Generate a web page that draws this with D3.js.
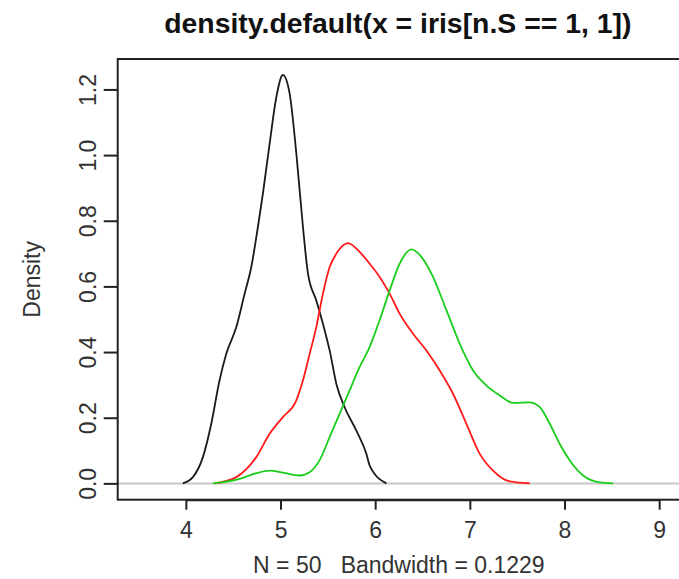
<!DOCTYPE html>
<html><head><meta charset="utf-8">
<script src="https://cdn.jsdelivr.net/npm/d3@7"></script>
<style>body{margin:0;background:#fff}svg{display:block}text{font-family:"Liberation Sans",Arial,sans-serif}</style>
</head><body><div id="chart"></div>
<script>
const titleText = "density.default(x = iris[n.S == 1, 1])";
const xLabel = "N = 50   Bandwidth = 0.1229";
const yLabel = "Density";
const xTicks = [4, 5, 6, 7, 8, 9];
const yTicks = [0.0, 0.2, 0.4, 0.6, 0.8, 1.0, 1.2];

const blackX = [3.968,4.074,4.180,4.268,4.356,4.427,4.533,4.621,4.691,4.761,4.814,4.885,4.956,5.025,5.096,5.167,5.237,5.290,5.378,5.448,5.519,5.590,5.677,5.801,5.907,5.942,6.118];
const blackY = [0.0,0.019,0.080,0.181,0.314,0.395,0.476,0.578,0.659,0.781,0.883,1.035,1.177,1.244,1.188,1.005,0.781,0.639,0.557,0.486,0.405,0.303,0.232,0.161,0.090,0.054,0.0];

const redX = [4.303,4.533,4.744,4.885,5.025,5.167,5.237,5.308,5.378,5.448,5.519,5.590,5.712,5.836,5.942,6.047,6.153,6.258,6.400,6.541,6.682,6.822,6.964,7.105,7.245,7.421,7.633];
const redY = [0.0,0.019,0.080,0.151,0.202,0.253,0.314,0.395,0.476,0.578,0.659,0.700,0.732,0.705,0.669,0.629,0.578,0.517,0.456,0.405,0.344,0.273,0.181,0.090,0.039,0.006,0.0];

const greenX = [4.285,4.568,4.744,4.885,5.025,5.201,5.307,5.412,5.519,5.624,5.730,5.835,5.941,6.047,6.153,6.258,6.383,6.488,6.611,6.753,6.894,7.034,7.176,7.316,7.457,7.633,7.739,7.845,7.950,8.056,8.197,8.373,8.514];
const greenY = [0.0,0.014,0.031,0.039,0.033,0.024,0.034,0.070,0.141,0.212,0.283,0.354,0.415,0.497,0.588,0.669,0.713,0.690,0.629,0.527,0.425,0.344,0.298,0.268,0.245,0.247,0.232,0.181,0.120,0.070,0.024,0.003,0.0];

const W = 679, H = 579;
const L = 117.7, R = 680, T = 59, B = 499.7;
const x = d3.scaleLinear().domain([3.28, 9.22]).range([L, R]);
const y = d3.scaleLinear().domain([-0.0497, 1.2927]).range([B, T]);

const svg = d3.select("#chart").append("svg").attr("width", W).attr("height", H);

// baseline
svg.append("line").attr("x1", L).attr("x2", R).attr("y1", y(0)).attr("y2", y(0))
  .attr("stroke", "#c8c8c8").attr("stroke-width", 2);

const line = d3.line().x(d => x(d[0])).y(d => y(d[1])).curve(d3.curveMonotoneX);
const series = [
  {xs: blackX, ys: blackY, c: "#1a1a1a"},
  {xs: redX, ys: redY, c: "#ff1a1a"},
  {xs: greenX, ys: greenY, c: "#1acd1a"}
];
series.forEach(s => {
  svg.append("path").datum(s.xs.map((v, i) => [v, s.ys[i]]))
    .attr("d", line).attr("fill", "none").attr("stroke", s.c).attr("stroke-width", 1.8);
});

// box
svg.append("rect").attr("x", L).attr("y", T).attr("width", R - L).attr("height", B - T)
  .attr("fill", "none").attr("stroke", "#222").attr("stroke-width", 2);

const FF = '"Liberation Sans",Arial,sans-serif';
// x axis
const xa = svg.append("g").attr("transform", `translate(0,${B})`)
  .call(d3.axisBottom(x).tickValues(xTicks).tickFormat(d3.format("d")).tickSize(10).tickPadding(12));
xa.select(".domain").attr("stroke", "#222").attr("stroke-width", 2).attr("d", `M${x(4)},0.5H${x(9)}`);
xa.selectAll(".tick line").attr("stroke", "#222").attr("stroke-width", 2);
xa.selectAll(".tick text").attr("font-size", 23).attr("fill", "#333").style("font-family", FF);

// y axis
const ya = svg.append("g").attr("transform", `translate(${L},0)`)
  .call(d3.axisLeft(y).tickValues(yTicks).tickFormat(d3.format(".1f")).tickSize(14).tickPadding(0));
ya.select(".domain").remove();
ya.selectAll(".tick line").attr("stroke", "#222").attr("stroke-width", 2);
ya.selectAll(".tick text").remove();
ya.selectAll(".tick").append("text")
  .attr("transform", "translate(-22,0) rotate(-90)")
  .attr("text-anchor", "middle")
  .attr("font-size", 23).attr("fill", "#333")
  .style("font-family", FF)
  .text(d => d3.format(".1f")(d));

// titles
svg.append("text").attr("x", (L + R) / 2 - 1).attr("y", 33).attr("text-anchor", "middle")
  .attr("font-size", 28.4).attr("font-weight", "bold").attr("fill", "#111").text(titleText);
svg.append("text").attr("x", (L + R) / 2).attr("y", 573).attr("text-anchor", "middle")
  .attr("font-size", 23).attr("fill", "#333").style("white-space", "pre").text(xLabel);
svg.append("text").attr("transform", `translate(40,${(T + B) / 2}) rotate(-90)`)
  .attr("text-anchor", "middle").attr("font-size", 23).attr("fill", "#333").text(yLabel);
</script></body></html>
